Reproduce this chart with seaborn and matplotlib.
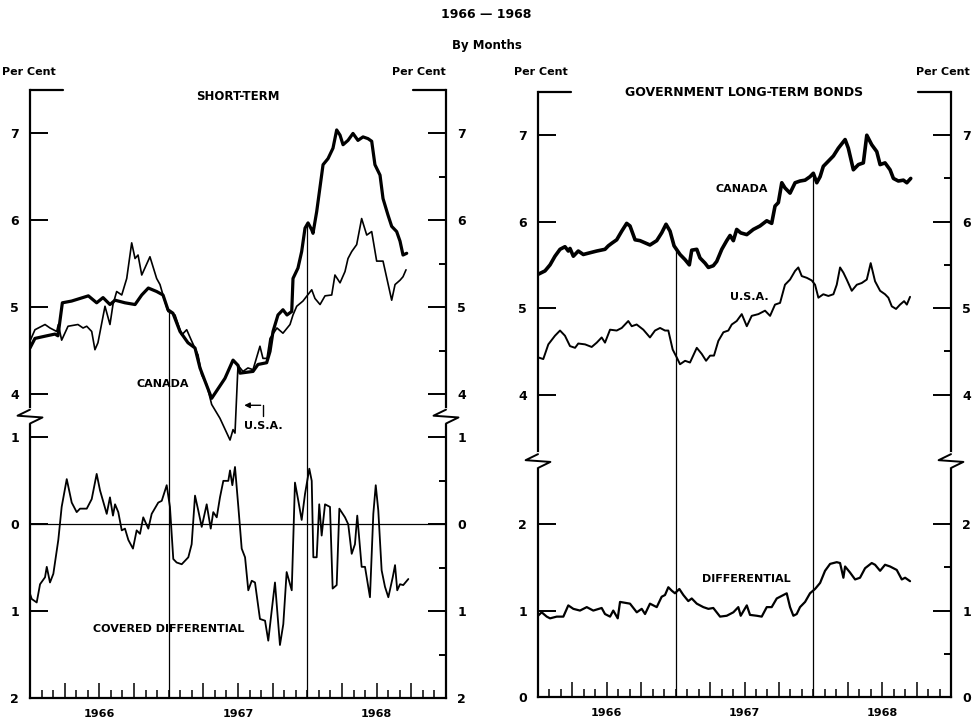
import matplotlib.pyplot as plt
import numpy as np
import seaborn as sns

# x = months since January 1966 (weekly readings)
years = ['1966', '1967', '1968']

# short-term rates, per cent
st_can_m = [0.0, 0.43, 1.45, 2.16, 2.42, 2.6, 2.8, 3.6, 5.05, 5.77, 6.32, 6.92, 7.36, 8.22, 9.09,
            9.67, 10.24, 10.96, 11.51, 11.94, 12.37, 12.98, 13.67, 14.28, 14.71, 15.14, 15.72,
            16.87, 17.57, 18.0, 18.17, 19.3, 19.73, 20.48, 20.77, 21.03, 21.46, 21.89, 22.24,
            22.65, 22.76, 23.19, 23.51, 23.8, 24.06, 24.38, 24.49, 24.81, 25.36, 25.79, 26.22,
            26.54, 26.83, 27.09, 27.52, 27.95, 28.38, 28.82, 29.25, 29.57, 29.85, 30.29, 30.55,
            30.98, 31.3, 31.73, 32.02, 32.28, 32.6]
st_can = [4.53, 4.64, 4.67, 4.69, 4.67, 4.85, 5.05, 5.07, 5.13, 5.05, 5.11, 5.03, 5.08, 5.05, 5.03,
          5.14, 5.22, 5.18, 5.14, 4.97, 4.93, 4.72, 4.59, 4.53, 4.30, 4.15, 3.95,
          4.18, 4.39, 4.33, 4.24, 4.26, 4.34, 4.36, 4.49, 4.72, 4.91, 4.97, 4.91,
          4.95, 5.33, 5.45, 5.64, 5.91, 5.97, 5.89, 5.85, 6.10, 6.64, 6.71, 6.83,
          7.04, 6.98, 6.87, 6.92, 7.00, 6.92, 6.96, 6.94, 6.91, 6.64, 6.52, 6.25,
          6.06, 5.93, 5.87, 5.76, 5.60, 5.62]

st_usa_m = [0.0, 0.43, 1.3, 1.73, 2.31, 2.45, 2.74, 3.29, 4.15, 4.59, 4.91, 5.34, 5.62, 5.88,
            6.49, 6.92, 7.18, 7.5, 7.94, 8.37, 8.8, 9.09, 9.35, 9.67, 10.38, 10.96, 11.25,
            11.51, 11.94, 12.55, 13.13, 13.56, 13.99, 14.54, 14.86, 15.29, 15.72, 16.44, 17.31,
            17.57, 17.74, 18.0, 18.43, 18.86, 19.3, 19.9, 20.16, 20.51, 20.77, 21.37, 21.89,
            22.5, 22.76, 23.08, 23.62, 24.38, 24.66, 25.1, 25.53, 26.11, 26.39, 26.83, 27.26,
            27.52, 27.84, 28.27, 28.7, 29.14, 29.57, 30.0, 30.55, 31.3, 31.59, 32.02, 32.28, 32.54]
st_usa = [4.61, 4.74, 4.80, 4.76, 4.72, 4.80, 4.62, 4.78, 4.80, 4.76, 4.78, 4.72, 4.51, 4.59,
          5.01, 4.80, 5.03, 5.18, 5.14, 5.33, 5.74, 5.56, 5.60, 5.37, 5.58, 5.33, 5.26,
          5.14, 4.95, 4.91, 4.68, 4.74, 4.61, 4.45, 4.22, 4.11, 3.88, 3.72, 3.47,
          3.59, 3.55, 4.33, 4.26, 4.30, 4.28, 4.55, 4.41, 4.41, 4.64, 4.76, 4.70,
          4.80, 4.91, 5.01, 5.07, 5.20, 5.10, 5.03, 5.13, 5.14, 5.37, 5.28, 5.41,
          5.56, 5.64, 5.72, 6.02, 5.83, 5.87, 5.53, 5.53, 5.08, 5.26, 5.31, 5.35, 5.43]

# covered differential (negative = below zero line)
cov_m = [0.0, 0.15, 0.58, 0.87, 1.3, 1.45, 1.73, 2.02, 2.45, 2.74, 3.18, 3.61, 4.04, 4.33, 4.91,
         5.34, 5.77, 6.06, 6.64, 6.92, 7.18, 7.36, 7.64, 7.94, 8.22, 8.51, 8.91, 9.23, 9.52,
         9.8, 10.24, 10.53, 11.1, 11.4, 11.83, 12.11, 12.4, 12.69, 13.13, 13.7, 13.99, 14.28,
         14.56, 14.86, 15.29, 15.64, 15.86, 16.16, 16.44, 16.73, 17.16, 17.31, 17.51, 17.74,
         18.03, 18.32, 18.61, 18.89, 19.19, 19.47, 19.9, 20.34, 20.62, 20.92, 21.2, 21.63,
         21.92, 22.21, 22.65, 22.93, 23.22, 23.51, 23.8, 24.17, 24.38, 24.52, 24.81, 25.03,
         25.24, 25.53, 25.96, 26.19, 26.54, 26.77, 27.26, 27.54, 27.84, 28.12, 28.32, 28.7,
         28.99, 29.42, 29.71, 29.92, 30.14, 30.43, 30.72, 31.01, 31.39, 31.59, 31.78, 32.02,
         32.3, 32.74]
cov = [-0.80, -0.86, -0.90, -0.69, -0.61, -0.49, -0.67, -0.57, -0.18, 0.20, 0.52, 0.25, 0.14, 0.18, 0.18,
       0.29, 0.58, 0.39, 0.12, 0.31, 0.10, 0.23, 0.14, -0.07, -0.05, -0.18, -0.28, -0.07, -0.11,
       0.08, -0.05, 0.12, 0.25, 0.27, 0.45, 0.20, -0.40, -0.44, -0.46, -0.38, -0.23, 0.33,
       0.16, -0.03, 0.23, -0.05, 0.14, 0.08, 0.31, 0.50, 0.50, 0.62, 0.45, 0.66,
       0.20, -0.28, -0.38, -0.76, -0.65, -0.67, -1.09, -1.11, -1.34, -0.99, -0.67, -1.39,
       -1.15, -0.55, -0.76, 0.48, 0.27, 0.05, 0.35, 0.64, 0.50, -0.38, -0.38, 0.23,
       -0.13, 0.23, 0.20, -0.74, -0.70, 0.18, 0.08, 0.00, -0.34, -0.23, 0.10, -0.49,
       -0.49, -0.84, 0.12, 0.45, 0.16, -0.53, -0.72, -0.84, -0.61, -0.47, -0.76, -0.69,
       -0.70, -0.63]

# government long-term bonds, per cent
lt_can_m = [0.0, 0.61, 1.05, 1.48, 1.92, 2.35, 2.64, 2.79, 3.08, 3.51, 3.95, 4.53, 5.12, 5.84, 6.13,
            6.43, 6.86, 7.3, 7.73, 8.02, 8.46, 8.89, 9.76, 10.35, 10.78, 11.16, 11.51, 11.86,
            12.38, 12.82, 13.19, 13.4, 13.84, 14.12, 14.56, 14.85, 15.28, 15.58, 16.02, 16.45,
            16.74, 17.03, 17.32, 17.67, 18.2, 18.77, 19.35, 19.94, 20.37, 20.66, 20.95, 21.25,
            21.53, 21.97, 22.41, 22.84, 23.28, 23.71, 24.0, 24.3, 24.59, 24.87, 25.31, 25.75,
            26.18, 26.77, 27.05, 27.49, 27.93, 28.36, 28.66, 29.09, 29.53, 29.82, 30.25, 30.69,
            30.98, 31.41, 31.85, 32.15, 32.49]
lt_can = [5.39, 5.43, 5.50, 5.60, 5.68, 5.71, 5.66, 5.69, 5.60, 5.66, 5.62, 5.64, 5.66, 5.68, 5.72,
          5.75, 5.79, 5.89, 5.98, 5.95, 5.79, 5.78, 5.73, 5.78, 5.87, 5.97, 5.89, 5.72,
          5.62, 5.56, 5.50, 5.67, 5.68, 5.58, 5.52, 5.47, 5.49, 5.54, 5.68, 5.78,
          5.84, 5.78, 5.91, 5.87, 5.85, 5.91, 5.95, 6.01, 5.98, 6.18, 6.22, 6.45,
          6.39, 6.33, 6.45, 6.47, 6.48, 6.52, 6.56, 6.45, 6.52, 6.64, 6.70, 6.76,
          6.85, 6.95, 6.85, 6.60, 6.66, 6.68, 7.00, 6.89, 6.81, 6.66, 6.68, 6.60,
          6.50, 6.47, 6.48, 6.45, 6.50]

lt_usa_m = [0.0, 0.46, 0.9, 1.48, 1.92, 2.35, 2.79, 3.23, 3.51, 4.1, 4.68, 5.12, 5.55, 5.84, 6.28,
            6.86, 7.3, 7.87, 8.17, 8.6, 9.18, 9.76, 10.2, 10.64, 11.07, 11.36, 11.74, 12.09,
            12.38, 12.82, 13.25, 13.84, 14.27, 14.65, 15.0, 15.34, 15.72, 16.16, 16.59, 16.89,
            17.32, 17.76, 18.2, 18.63, 19.21, 19.79, 20.23, 20.66, 21.1, 21.53, 21.97, 22.41,
            22.69, 22.99, 23.43, 23.86, 24.15, 24.44, 24.87, 25.31, 25.75, 26.04, 26.33, 26.62,
            26.91, 27.35, 27.79, 28.22, 28.66, 29.0, 29.38, 29.82, 30.25, 30.54, 30.84, 31.21,
            31.56, 31.91, 32.15, 32.43]
lt_usa = [4.43, 4.41, 4.58, 4.68, 4.74, 4.68, 4.56, 4.54, 4.59, 4.58, 4.55, 4.60, 4.66, 4.60, 4.75,
          4.74, 4.77, 4.85, 4.79, 4.81, 4.75, 4.66, 4.74, 4.77, 4.74, 4.74, 4.52, 4.43,
          4.35, 4.39, 4.37, 4.54, 4.47, 4.39, 4.45, 4.45, 4.62, 4.72, 4.74, 4.81,
          4.85, 4.93, 4.79, 4.91, 4.93, 4.97, 4.91, 5.04, 5.06, 5.27, 5.33, 5.43,
          5.47, 5.37, 5.35, 5.32, 5.27, 5.12, 5.16, 5.14, 5.16, 5.27, 5.47, 5.41,
          5.33, 5.20, 5.27, 5.29, 5.33, 5.52, 5.31, 5.20, 5.16, 5.12, 5.02, 4.99,
          5.04, 5.08, 5.04, 5.13]

lt_dif_m = [0.0, 0.32, 0.76, 1.05, 1.63, 2.21, 2.64, 3.08, 3.66, 4.25, 4.82, 5.55, 5.84, 6.28,
            6.56, 6.95, 7.15, 8.02, 8.61, 9.04, 9.33, 9.76, 10.35, 10.78, 11.07, 11.36, 11.66,
            11.94, 12.32, 12.67, 13.1, 13.4, 13.84, 14.41, 14.85, 15.28, 15.87, 16.45, 17.03,
            17.46, 17.67, 18.2, 18.48, 19.07, 19.5, 19.94, 20.37, 20.81, 21.39, 21.68, 21.97,
            22.26, 22.55, 22.84, 23.28, 23.71, 24.15, 24.59, 25.02, 25.46, 26.04, 26.33, 26.62,
            26.77, 27.2, 27.64, 28.07, 28.51, 29.09, 29.38, 29.82, 30.25, 30.69, 31.27, 31.71,
            32.0, 32.43]
lt_dif = [0.94, 0.98, 0.93, 0.91, 0.93, 0.93, 1.06, 1.02, 1.00, 1.04, 1.00, 1.03, 0.96, 0.93,
          1.00, 0.91, 1.10, 1.08, 0.98, 1.02, 0.96, 1.08, 1.04, 1.16, 1.18, 1.27, 1.23,
          1.20, 1.25, 1.18, 1.11, 1.14, 1.08, 1.04, 1.02, 1.03, 0.93, 0.94, 0.98,
          1.04, 0.94, 1.06, 0.95, 0.94, 0.93, 1.04, 1.04, 1.14, 1.18, 1.20, 1.04,
          0.94, 0.96, 1.04, 1.10, 1.20, 1.25, 1.32, 1.46, 1.54, 1.56, 1.55, 1.38,
          1.51, 1.44, 1.36, 1.38, 1.49, 1.55, 1.53, 1.46, 1.53, 1.51, 1.47, 1.36,
          1.38, 1.34]

# the upper (rate) scale sits above a break; shift it down onto the shared y scale
SHIFT_L = 2.5
SHIFT_R = 0.5

sns.set_style('white')
plt.rcParams['font.family'] = ['DejaVu Sans']
plt.rcParams['font.weight'] = 'bold'
plt.rcParams['text.color'] = 'black'
plt.rcParams['xtick.color'] = 'black'
plt.rcParams['ytick.color'] = 'black'

fig = plt.figure(figsize=(9.73, 7.21), dpi=100)
axL = fig.add_axes([30 / 973, 23 / 721, 416 / 973, 608 / 721])
axR = fig.add_axes([538 / 973, 24 / 721, 413 / 973, 605 / 721])


def line(ax, x, y, lw):
    sns.lineplot(x=x, y=y, ax=ax, color='black', lw=lw, estimator=None, sort=False, legend=False)


def frame(ax, ylim, major, labels, minor, brk):
    ax.set_xlim(0, 36)
    ax.set_ylim(*ylim)
    for s in ['left', 'right', 'bottom']:
        ax.spines[s].set_linewidth(1.6)
        ax.spines[s].set_color('black')
    ax.spines['top'].set_visible(False)
    ax.set_yticks(major)
    ax.set_yticklabels(labels)
    ax.set_yticks(minor, minor=True)
    ax.tick_params(axis='y', which='major', direction='in', length=13, width=1.4,
                   left=True, right=True, labelleft=True, labelright=True, pad=8, labelsize=9,
                   colors='black')
    ax.tick_params(axis='y', which='minor', direction='in', length=5, width=1.4,
                   left=False, right=True, colors='black')
    ax.set_xticks([3, 6, 9, 15, 18, 21, 27, 30, 33])
    ax.set_xticks(np.arange(1, 36), minor=True)
    ax.tick_params(axis='x', which='major', direction='in', length=11, width=1.1,
                   bottom=True, labelbottom=False, colors='black')
    ax.tick_params(axis='x', which='minor', direction='in', length=5.5, width=1.1, bottom=True,
                   colors='black')
    ax.set_xlabel('')
    ax.set_ylabel('')
    for i, yr in enumerate(years):
        ax.text(12 * i + 6, -0.018, yr, transform=ax.get_xaxis_transform(),
                ha='center', va='top', fontsize=8, fontweight='bold')
    # stubs of the top frame
    for xs in ([0, 0.08], [0.92, 1]):
        ax.plot(xs, [1, 1], transform=ax.transAxes, color='black', lw=1.6, clip_on=False)
    # scale break on both verticals
    tr = ax.get_yaxis_transform()
    for x0 in (0, 1):
        ax.plot([x0, x0], [brk - 0.07, brk + 0.07], transform=tr, color='white', lw=3,
                clip_on=False, zorder=5)
        ax.plot([x0, x0 - 0.03, x0 + 0.03, x0], [brk + 0.07, brk, brk - 0.02, brk - 0.09],
                transform=tr, color='black', lw=1.4, clip_on=False, zorder=6)


# ---- short-term panel
line(axL, st_can_m, np.array(st_can) - SHIFT_L, 2.3)
line(axL, st_usa_m, np.array(st_usa) - SHIFT_L, 1.2)
line(axL, cov_m, cov, 1.3)
axL.axhline(0, color='black', lw=0.9)
for yb in (12, 24):
    axL.vlines(yb, -2, np.interp(yb, st_can_m, st_can) - SHIFT_L, color='black', lw=0.9)
frame(axL, (-2, 5), [4.5, 3.5, 2.5, 1.5, 1, 0, -1, -2],
      ['7', '6', '5', '4', '1', '0', '1', '2'], [4, 3, 2, 0.5, -0.5, -1.5], 1.25)
axL.text(0.5, 0.99, 'SHORT-TERM', transform=axL.transAxes, ha='center', va='center',
         fontsize=8.5, fontweight='bold')
axL.text(11.5, 1.62, 'CANADA', ha='center', va='center', fontsize=8, fontweight='bold')
axL.text(20.2, 1.13, 'U.S.A.', ha='center', va='center', fontsize=8, fontweight='bold')
axL.plot([20.16, 20.16], [1.25, 1.37], color='black', lw=1.0)
axL.annotate('', xy=(18.3, 1.37), xytext=(20.2, 1.37),
             arrowprops=dict(arrowstyle='-|>', color='black', lw=1.0, mutation_scale=8))
axL.text(12.0, -1.21, 'COVERED DIFFERENTIAL', ha='center', va='center', fontsize=8,
         fontweight='bold')

# ---- long-term panel
line(axR, lt_can_m, np.array(lt_can) - SHIFT_R, 2.6)
line(axR, lt_usa_m, np.array(lt_usa) - SHIFT_R, 1.4)
line(axR, lt_dif_m, lt_dif, 1.6)
for yb in (12, 24):
    axR.vlines(yb, 0, np.interp(yb, lt_can_m, lt_can) - SHIFT_R, color='black', lw=0.9)
frame(axR, (0, 7), [6.5, 5.5, 4.5, 3.5, 2, 1, 0],
      ['7', '6', '5', '4', '2', '1', '0'], [6, 5, 4, 1.5, 0.5], 2.74)
axR.text(0.5, 1.0, 'GOVERNMENT LONG-TERM BONDS', transform=axR.transAxes, ha='center',
         va='center', fontsize=9, fontweight='bold')
axR.text(17.8, 5.88, 'CANADA', ha='center', va='center', fontsize=8, fontweight='bold')
axR.text(18.4, 4.63, 'U.S.A.', ha='center', va='center', fontsize=8, fontweight='bold')
axR.text(18.2, 1.37, 'DIFFERENTIAL', ha='center', va='center', fontsize=8, fontweight='bold')

# ---- headings
fig.text(0.5, 1 - 14 / 721, '1966 \u2014 1968', ha='center', va='center', fontsize=9,
         fontweight='bold')
fig.text(0.5, 1 - 45 / 721, 'By Months', ha='center', va='center', fontsize=8.5,
         fontweight='bold')
for xpos, ha in ((2 / 973, 'left'), (446 / 973, 'right'), (514 / 973, 'left'), (970 / 973, 'right')):
    fig.text(xpos, 1 - 72 / 721, 'Per Cent', ha=ha, va='center', fontsize=8, fontweight='bold')

fig.savefig('out.png', dpi=100)
